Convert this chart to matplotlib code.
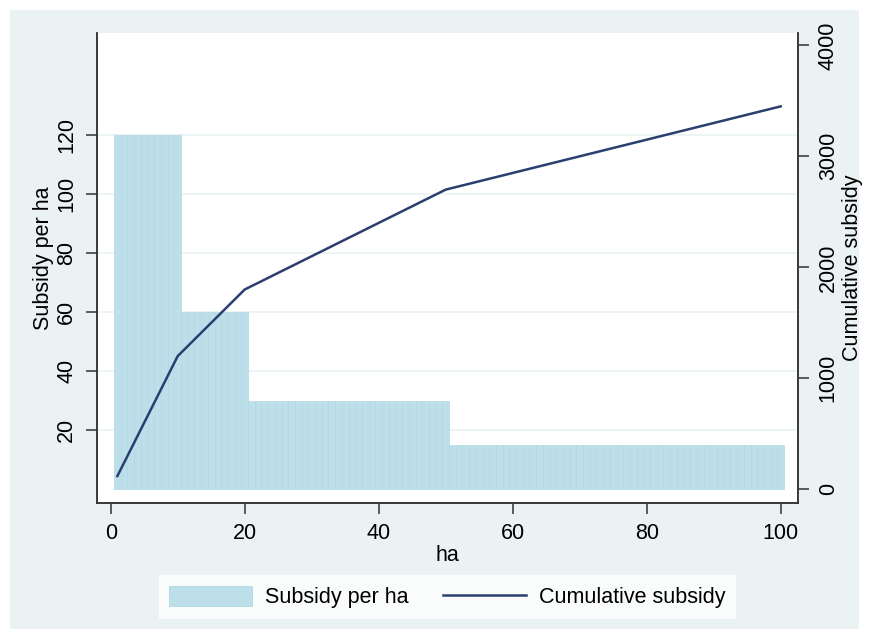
import numpy as np
import matplotlib
matplotlib.use("Agg")
import matplotlib.pyplot as plt
from matplotlib.patches import Rectangle, Patch
from matplotlib.lines import Line2D

# ---- data ----
seg_start = [1, 11, 21, 51]
seg_end = [10, 20, 50, 100]
seg_rate = [120, 60, 30, 15]          # subsidy per ha in each bracket
cum_ha = [1, 10, 20, 50, 100]
cum_subsidy = [120, 1200, 1800, 2700, 3450]
x_ticks = [0, 20, 40, 60, 80, 100]
left_ticks = [20, 40, 60, 80, 100, 120]
right_ticks = [0, 1000, 2000, 3000, 4000]

ha = np.concatenate([np.arange(s, e + 1) for s, e in zip(seg_start, seg_end)])
rate = np.concatenate([[r] * (e - s + 1) for s, e, r in zip(seg_start, seg_end, seg_rate)])

plt.rcParams['font.family'] = ['Liberation Sans', 'DejaVu Sans']
FS = 15.5
BG = '#EAF2F3'
BAR = '#BCDFE9'
BAR_EDGE = '#B2D9E4'
LINE = '#2A3F6F'
W, H = 869, 639

fig = plt.figure(figsize=(W / 100, H / 100), dpi=100, facecolor='white')
fig.patches.append(Rectangle((10 / W, 10 / H), (W - 20) / W, (H - 20) / H,
                             transform=fig.transFigure, facecolor=BG,
                             edgecolor='none', zorder=-10))

ax_l, ax_r, ax_t, ax_b = 96.7, 798.3, 33, 503.3
ax = fig.add_axes([ax_l / W, 1 - ax_b / H, (ax_r - ax_l) / W, (ax_b - ax_t) / H])
ax.set_facecolor('white')

ax.bar(ha, rate, width=1.0, color=BAR, edgecolor=BAR_EDGE, linewidth=0.5, zorder=2)
ax.set_xlim(-2.09, 102.63)
ax.set_ylim(-4.75, 154.7)
ax.set_yticks(left_ticks)
ax.set_xticks(x_ticks)
ax.grid(axis='y', color=BG, linewidth=1.2, zorder=0)
ax.set_axisbelow(True)
for lab in ax.get_yticklabels():
    lab.set_rotation(90)
    lab.set_va('center')
ax.tick_params(axis='both', labelsize=FS, length=8, width=1.1, color='#333333', pad=6)
ax.tick_params(axis='y', pad=6)
ax.set_xlabel('ha', fontsize=FS, labelpad=1)
ax.set_ylabel('Subsidy per ha', fontsize=FS, labelpad=0)
ax.yaxis.set_label_coords(-0.061, 0.52)
ax.spines['top'].set_visible(False)
for s in ['left', 'bottom', 'right']:
    ax.spines[s].set_color('#333333')
    ax.spines[s].set_linewidth(1.1)

ax2 = ax.twinx()
ax2.plot(cum_ha, cum_subsidy, color=LINE, linewidth=1.8, zorder=3)
ax2.set_ylim(-126, 4111)
ax2.set_yticks(right_ticks)
for lab in ax2.get_yticklabels():
    lab.set_rotation(90)
    lab.set_va('center')
ax2.tick_params(axis='y', labelsize=FS, length=8, width=1.1, color='#333333', pad=6)
ax2.set_ylabel('Cumulative subsidy', fontsize=FS, labelpad=2, rotation=90)
ax2.spines['top'].set_visible(False)
for s in ['left', 'bottom', 'right']:
    ax2.spines[s].set_color('#333333')
    ax2.spines[s].set_linewidth(1.1)

handles = [Patch(facecolor=BAR, edgecolor=BAR_EDGE, linewidth=0.6),
           Line2D([0], [0], color=LINE, linewidth=1.8)]
leg = fig.legend(handles, ['Subsidy per ha', 'Cumulative subsidy'],
                 loc='center', bbox_to_anchor=(447.5 / W, 1 - 597 / H),
                 ncol=2, fontsize=FS, frameon=True, fancybox=False,
                 handlelength=3.85, handleheight=1.1, columnspacing=1.6,
                 handletextpad=0.6, borderpad=0.5, borderaxespad=0)
leg.get_frame().set_facecolor('white')
leg.get_frame().set_edgecolor('white')
leg.get_frame().set_linewidth(0)

fig.savefig('out.png', dpi=100, facecolor='white')
